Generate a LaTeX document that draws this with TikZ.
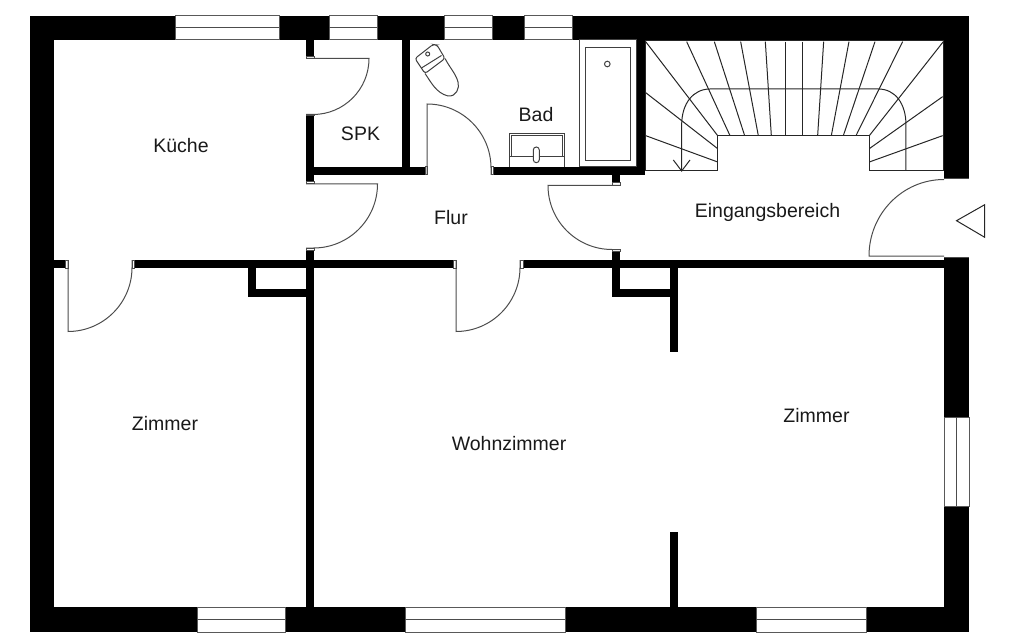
\documentclass[tikz,border=0pt]{standalone}
\usepackage{fontspec}
\setmainfont{Liberation Sans}
\tikzset{
	wall/.style={fill=black, draw=none},
	thinline/.style={draw=black!70, line width=1pt},
	window/.style={fill=white, draw=black!65, line width=1pt},
	fixture/.style={draw=black!75, line width=1pt},
	flight/.style={draw=black!85, line width=1pt},
	room/.style={font=\fontsize{19.5}{19.5}\selectfont, text=black!90, inner sep=0pt}
}
\begin{document}
\begin{tikzpicture}[x=1pt, y=-1pt]
	\useasboundingbox (0,0) rectangle (1024,636);
	%outer walls
	\fill[wall] (30,16) rectangle (969,40);
	\fill[wall] (30,607) rectangle (969,632);
	\fill[wall] (30,16) rectangle (54,632);
	\fill[wall] (944,16) rectangle (969,178);
	\fill[wall] (944,257) rectangle (969,632);
	\draw[thinline] (944,179) -- (969,179);
	\draw[thinline] (944,257) -- (969,257);
	%inner walls
	\fill[wall] (306,40) rectangle (314,56.5);
	\fill[wall] (306,116) rectangle (314,181.5);
	\fill[wall] (306,250) rectangle (314,607);
	\fill[wall] (402,40) rectangle (410,167);
	\fill[wall] (637,40) rectangle (645,175);
	\fill[wall] (314,167) rectangle (425,175);
	\fill[wall] (493,167) rectangle (645,175);
	\fill[wall] (612,175) rectangle (620,183);
	\fill[wall] (54,260) rectangle (65.5,268);
	\fill[wall] (134,260) rectangle (453,268);
	\fill[wall] (523,260) rectangle (944,268);
	\fill[wall] (612,251) rectangle (620,297);
	\fill[wall] (612,289) rectangle (678,297);
	\fill[wall] (670,260) rectangle (678,352);
	\fill[wall] (670,532) rectangle (678,607);
	\fill[wall] (248,260) rectangle (256,297);
	\fill[wall] (248,289) rectangle (306,297);
	%windows
	\foreach \xa/\xb in {175/279, 329/377, 444/492, 524/572} {
		\draw[window] (\xa,16) rectangle (\xb,40);
		\draw[thinline] (\xa,28) -- (\xb,28);
	}
	\foreach \xa/\xb in {197/285, 405/565, 756/866} {
		\draw[window] (\xa,607) rectangle (\xb,632);
		\draw[thinline] (\xa,619.5) -- (\xb,619.5);
	}
	\draw[window] (944,417) rectangle (969,506);
	\draw[thinline] (956.5,417) -- (956.5,506);
	%doors
	\draw[thinline] (306,58.5) -- (369,58.5) arc (0:90:56 and 56) -- (306,114.5);
	\draw[thinline] (306,184) -- (377.5,184) arc (0:90:64 and 64) -- (306,248);
	\draw[thinline] (427,175) -- (427,104) arc (-90:0:64 and 64) -- (491,175);
	\draw[thinline] (620,185.5) -- (548,185.5) arc (180:90:64 and 64) -- (620,249.5);
	\draw[thinline] (68,260) -- (68,331.5) arc (90:0:64 and 64) -- (132,260);
	\draw[thinline] (456,260) -- (456,331.5) arc (90:0:64 and 64) -- (520,260);
	\draw[thinline] (944,256) -- (869,256) arc (180:270:75 and 76.5);
	\draw[thinline] (306,56.5) rectangle (314,58.5);
	\draw[thinline] (306,114.5) rectangle (314,116);
	\draw[thinline] (306,181.5) rectangle (314,184);
	\draw[thinline] (306,248) rectangle (314,250);
	\draw[thinline] (612,183) rectangle (620,185.5);
	\draw[thinline] (612,249.5) rectangle (620,251);
	\draw[thinline] (65.5,260) rectangle (68,268);
	\draw[thinline] (132,260) rectangle (134,268);
	\draw[thinline] (453,260) rectangle (456,268);
	\draw[thinline] (520,260) rectangle (523,268);
	\draw[thinline] (425,167) rectangle (427,175);
	\draw[thinline] (491,167) rectangle (493,175);
	%entrance mark
	\draw[flight] (956.5,220.7) -- (984.7,204.7) -- (984.7,237.3) -- cycle;
	%bath
	\draw[fixture] (579.5,40) rectangle (636,167);
	\draw[fixture] (585,47.5) rectangle (630,160.5);
	\draw[fixture] (607.3,64) circle (2.8);
	%sink
	\draw[fixture] (509,167) -- (509,133.5) -- (564.3,133.5) -- (564.3,167);
	\draw[fixture] (511.7,157) -- (511.7,136) -- (562,136) -- (562,157);
	\draw[fixture] (509,157) -- (564.3,157);
	\draw[fixture, rounded corners=3pt, fill=white] (533.3,147) rectangle (539.3,162.7);
	%toilet
	\draw[fixture, rounded corners=2.5pt] (425,73.5) -- (415,58.5) -- (433,44.5) -- (437,45) -- (445,58.5) -- cycle;
	\draw[fixture] (421.5,68) -- (441.5,55.5);
	\draw[fixture] (425,73.5) .. controls (431,82) and (436,93) .. (448,96) .. controls (456,97) and (460,88) .. (458,82) .. controls (456,74) and (450,68) .. (445,58.5);
	\draw[fixture] (427.7,54) circle (2);
	%stairs
	\draw[flight] (645,41) -- (943,41) -- (943,171) -- (869.3,171) -- (869.3,135.7) -- (717.7,135.7) -- (717.7,171) -- (645,171) -- cycle;
	\begin{scope}[shift={(630,10)}, x=0.3333pt, y=-0.3333pt]
		\foreach \xa/\ya/\xb/\yb in {47/95/263/377, 170/95/300/377, 253/95/344/377, 332/95/385/377, 406/95/424/377, 467/95/467/377, 518/95/518/377, 581/95/563/377, 657/95/604/377, 735/95/640/377, 818/95/678/377, 940/95/718/377, 47/248/263/416, 47/377/263/456, 938/260/718/416, 938/377/718/456}
			\draw[flight] (\xa,\ya) -- (\xb,\yb);
		%walking line
		\draw[flight] (828,483) -- (828,345) .. controls (828,280) and (795,237) .. (745,237) -- (240,237) .. controls (190,237) and (155,280) .. (155,345) -- (155,483);
		\draw[flight] (130,450) -- (155,483) -- (180,450);
	\end{scope}
	%rooms
	\node[room] (kueche) at (181,145.5) {Küche};
	\node[room] (spk) at (360.5,133.5) {SPK};
	\node[room] (bad) at (536,114.5) {Bad};
	\node[room] (flur) at (451,217.5) {Flur};
	\node[room] (eingang) at (767.5,212.5) {Eingangsbereich};
	\node[room] (zimmerlinks) at (165,423.5) {Zimmer};
	\node[room] (wohnzimmer) at (509,443.5) {Wohnzimmer};
	\node[room] (zimmerrechts) at (816.5,415.5) {Zimmer};
\end{tikzpicture}
\end{document}
